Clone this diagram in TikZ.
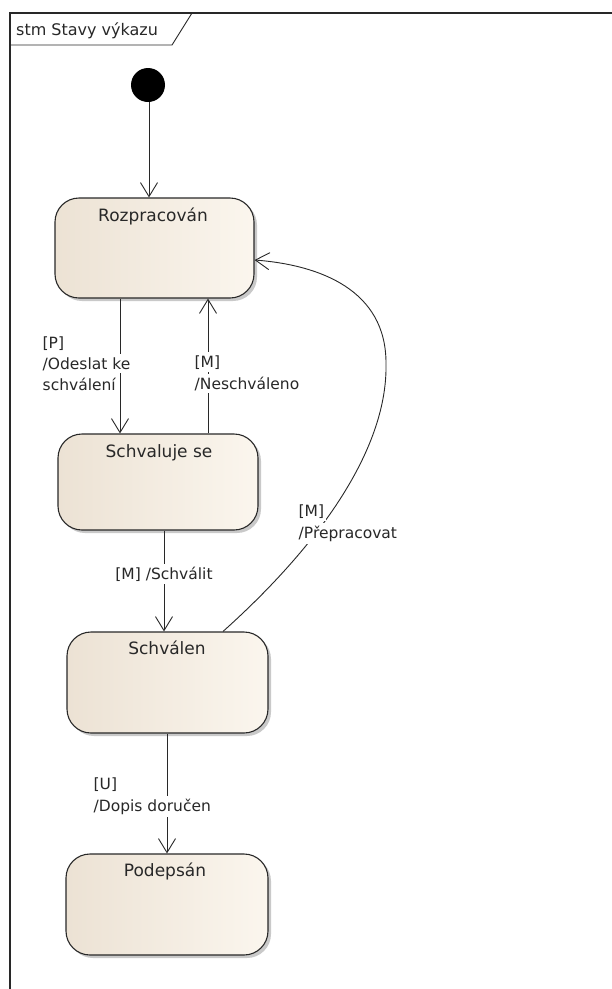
\documentclass[tikz,border=0pt]{standalone}
\usepackage{fontspec}
\setmainfont{DejaVu Sans}
\usetikzlibrary{arrows.meta,shadows}
\definecolor{stateL}{RGB}{236,226,212}
\definecolor{stateR}{RGB}{251,246,238}
\definecolor{ink}{RGB}{40,40,40}
\begin{document}
\begin{tikzpicture}[x=1pt,y=-1pt,
  statebox/.style={draw=ink, line width=1.1pt, rounded corners=24pt, left color=stateL, right color=stateR,
     drop shadow={shadow xshift=3pt, shadow yshift=-3pt, fill=black!35, opacity=0.6}, inner sep=0pt},
  stname/.style={font=\fontsize{17}{20}\selectfont, text=ink, inner sep=0pt, anchor=base},
  lbl/.style={font=\fontsize{15.5}{20}\selectfont, text=ink, fill=white, inner xsep=1.5pt, inner ysep=3pt, anchor=base west},
  arr/.style={draw=ink, line width=0.9pt, -{Straight Barb[length=14pt,width=17pt,line width=0.9pt]}}]
\useasboundingbox (0,0) rectangle (612,989);
\fill[white] (0,0) rectangle (612,989);
% frame
\draw[ink, line width=1.3pt] (612,13) -- (10,13) -- (10,989);
\draw[ink, line width=0.9pt] (10,45) -- (172,45) -- (192,13);
\node[font=\fontsize{16}{20}\selectfont, text=ink, anchor=base west, inner sep=0pt] (title) at (16,35) {stm Stavy výkazu};
% initial
\node[circle, fill=black, minimum size=34pt, inner sep=0pt] (init) at (148,85) {};
% states
\node[statebox, minimum width=199pt, minimum height=100pt] (roz) at (154.5,248) {};
\node[statebox, minimum width=200pt, minimum height=96pt] (sch) at (158,482) {};
\node[statebox, minimum width=201pt, minimum height=101pt] (schn) at (167.5,682.5) {};
\node[statebox, minimum width=202pt, minimum height=101pt] (pod) at (167,904.5) {};
\node[stname] (tRoz) at (153,221) {Rozpracován};
\node[stname] (tSch) at (159,457) {Schvaluje se};
\node[stname] (tSchn) at (167,654) {Schválen};
\node[stname] (tPod) at (165,876) {Podepsán};
% connectors
\draw[arr] (init.south -| 149,0) -- (roz.north -| 149,0);
\draw[arr] (roz.south -| 120,0) -- (sch.north -| 120,0);
\draw[arr] (sch.north -| 208,0) -- (roz.south -| 208,0);
\draw[arr] (sch.south -| 164,0) -- (schn.north -| 164,0);
\draw[arr] (schn.south -| 167,0) -- (pod.north -| 167,0);
\coordinate (cTop) at (386,363);
\draw[arr] (schn.north -| 223,0) .. controls (325,540) and (388,445) .. (cTop)
   .. controls (386,290) and (320,265) .. (roz.east |- 0,260);
% labels
\node[lbl] (lP1) at (41,348) {[P]};
\node[lbl] (lP2) at (41,369) {/Odeslat ke};
\node[lbl] (lP3) at (41,390) {schválení};
\node[lbl] (lN1) at (193,367) {[M]};
\node[lbl] (lN2) at (193,389) {/Neschváleno};
\node[lbl, anchor=base] (lS) at (164,579) {[M] /Schválit};
\node[lbl] (lR1) at (297,516) {[M]};
\node[lbl] (lR2) at (297,538) {/Přepracovat};
\node[lbl] (lU1) at (92,789) {[U]};
\node[lbl] (lU2) at (92,811) {/Dopis doručen};
\end{tikzpicture}
\end{document}
